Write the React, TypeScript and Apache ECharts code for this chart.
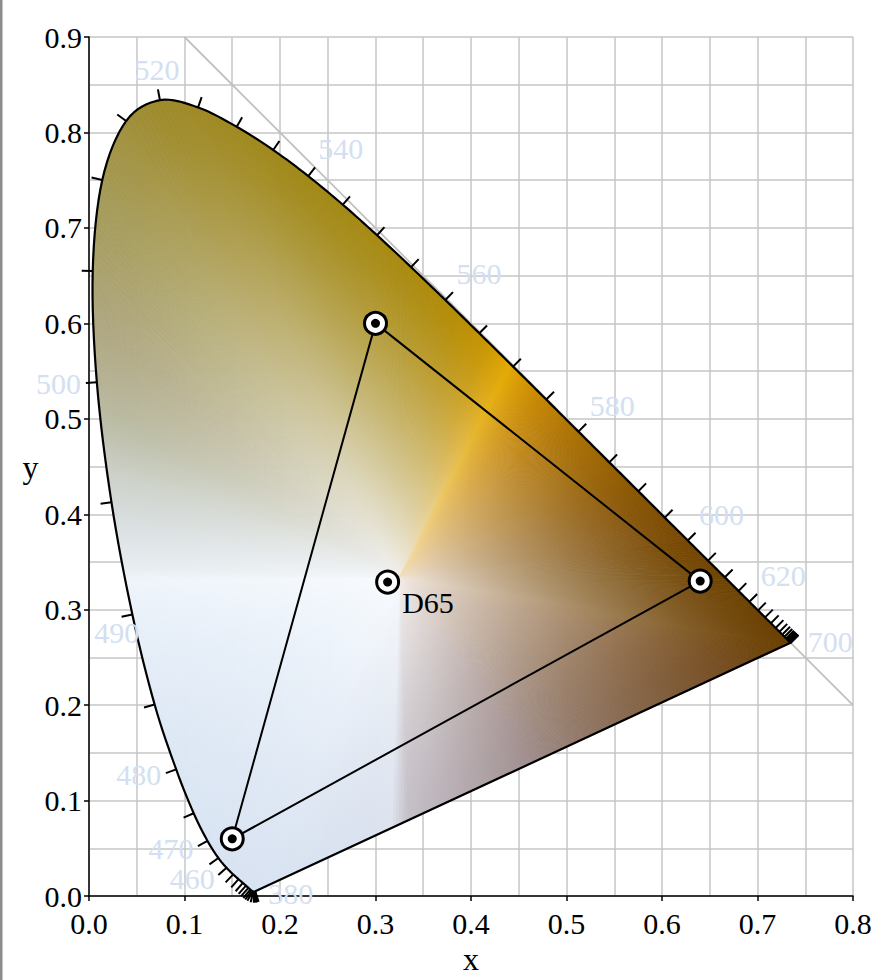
import React, { useEffect, useRef } from "react";
import * as echarts from "echarts";

// ---- data -------------------------------------------------------------
const WAVELENGTHS = [
  380, 385, 390, 395, 400, 405, 410, 415, 420, 425, 430, 435, 440, 445, 450, 455,
  460, 465, 470, 475, 480, 485, 490, 495, 500, 505, 510, 515, 520, 525, 530, 535,
  540, 545, 550, 555, 560, 565, 570, 575, 580, 585, 590, 595, 600, 605, 610, 615,
  620, 625, 630, 635, 640, 645, 650, 655, 660, 665, 670, 675, 680, 685, 690, 695, 700,
];
const LOCUS_X = [
  0.1741, 0.174, 0.1738, 0.1736, 0.1733, 0.173, 0.1726, 0.1721, 0.1714, 0.1703,
  0.1689, 0.1669, 0.1644, 0.1611, 0.1566, 0.151, 0.144, 0.1355, 0.1241, 0.1096,
  0.0913, 0.0687, 0.0454, 0.0235, 0.0082, 0.0039, 0.0139, 0.0389, 0.0743, 0.1142,
  0.1547, 0.1929, 0.2296, 0.2658, 0.3016, 0.3373, 0.3731, 0.4087, 0.4441, 0.4788,
  0.5125, 0.5448, 0.5752, 0.6029, 0.627, 0.6482, 0.6658, 0.6801, 0.6915, 0.7006,
  0.7079, 0.714, 0.719, 0.723, 0.726, 0.7283, 0.73, 0.7311, 0.732, 0.7327,
  0.7334, 0.734, 0.7344, 0.7346, 0.7347,
];
const LOCUS_Y = [
  0.005, 0.005, 0.0049, 0.0049, 0.0048, 0.0048, 0.0048, 0.0048, 0.0051, 0.0058,
  0.0069, 0.0086, 0.0109, 0.0138, 0.0177, 0.0227, 0.0297, 0.0399, 0.0578, 0.0868,
  0.1327, 0.2007, 0.295, 0.4127, 0.5384, 0.6548, 0.7502, 0.812, 0.8338, 0.8262,
  0.8059, 0.7816, 0.7543, 0.7243, 0.6923, 0.6589, 0.6245, 0.5896, 0.5547, 0.5202,
  0.4866, 0.4544, 0.4242, 0.3965, 0.3725, 0.3514, 0.334, 0.3197, 0.3083, 0.2993,
  0.292, 0.2859, 0.2809, 0.277, 0.274, 0.2717, 0.27, 0.2689, 0.268, 0.2673,
  0.2666, 0.266, 0.2656, 0.2654, 0.2653,
];
const LABELED_WAVELENGTHS = [380, 460, 470, 480, 490, 500, 520, 540, 560, 580, 600, 620, 700];

const PRIMARY_X = [0.64, 0.3, 0.15];
const PRIMARY_Y = [0.33, 0.6, 0.06];
const WHITE_X = [0.3127];
const WHITE_Y = [0.329];
const WHITE_NAME = "D65";

const X_MIN = 0, X_MAX = 0.8, Y_MIN = 0, Y_MAX = 0.9, TICK_STEP = 0.1;
const MAXWELL_LINE_X = [0.1, 0.8];
const MAXWELL_LINE_Y = [0.9, 0.2];

// ---- styles -----------------------------------------------------------
const SERIF = "'Liberation Serif', 'DejaVu Serif', serif";
const GRID_COLOR = "#c6c6c6";
const LABEL_BLUE = "#d3e0f1";
const FONT = 30;
const FILL_CENTER: [number, number] = [0.325, 0.333];
const SAT_EXP = 1.3;

// [angle from centre (deg), colour at locus, colour at centre]
const FILL_STOPS: [number, string, string][] = [
  [-180, "#eef4fa", "#f8fbfe"],
  [-160, "#e3ecf7", "#f8fbfe"],
  [-140, "#dce7f4", "#f8fbfe"],
  [-120, "#d8e3f2", "#f8fbfe"],
  [-100, "#dae2ef", "#f7f9fc"],
  [-92, "#dde3ee", "#f6f8fb"],
  [-88, "#c4bec6", "#f2eeec"],
  [-70, "#b0a5a9", "#f2ece8"],
  [-55, "#a08e8e", "#f2ebe6"],
  [-40, "#907664", "#f2eae4"],
  [-25, "#805e3e", "#f2e9e2"],
  [-15, "#744a1e", "#f2e8e0"],
  [-10, "#6a3f02", "#f2e8de"],
  [0, "#6e4200", "#f2e8dc"],
  [8, "#784700", "#f2e6d8"],
  [18, "#865200", "#f2e4d2"],
  [30, "#9a6200", "#f3e2ca"],
  [42, "#ae7200", "#f3e0c2"],
  [52, "#c48400", "#f4dfba"],
  [58, "#d49600", "#f4dfb6"],
  [62.5, "#e2a800", "#f4e0b4"],
  [64.5, "#dba200", "#efe8dc"],
  [70, "#c69400", "#f0ece4"],
  [78, "#b48c04", "#f1eeea"],
  [90, "#a8890e", "#f1efea"],
  [105, "#a08818", "#f1efec"],
  [117, "#9e8a2a", "#f1f0ee"],
  [128, "#a49a58", "#f1f1f0"],
  [140, "#aea680", "#f1f2f2"],
  [150, "#b8b89e", "#f1f3f4"],
  [160, "#cbd0c8", "#f2f5f6"],
  [170, "#dbe1e3", "#f3f6f8"],
  [178, "#e7edf1", "#f5f8fb"],
  [180, "#eef4fa", "#f8fbfe"],
];

const LABEL_OVERRIDES: Record<number, { dx?: number; dy?: number; align: string; va: string }> = {
  380: { dx: 13, dy: 2, align: "left", va: "middle" },
  700: { dx: 17, dy: -1, align: "left", va: "middle" },
  490: { align: "center", va: "top" },
};

// ---- helpers ----------------------------------------------------------
function hexRgb(h: string): number[] {
  return [parseInt(h.slice(1, 3), 16), parseInt(h.slice(3, 5), 16), parseInt(h.slice(5, 7), 16)];
}
function mix(a: number[], b: number[], t: number): number[] {
  return [a[0] + (b[0] - a[0]) * t, a[1] + (b[1] - a[1]) * t, a[2] + (b[2] - a[2]) * t];
}
function rgbStr(c: number[]): string {
  return `rgb(${Math.round(c[0])},${Math.round(c[1])},${Math.round(c[2])})`;
}
function colorsAt(theta: number): { edge: number[]; center: number[] } {
  for (let i = 0; i < FILL_STOPS.length - 1; i++) {
    const a = FILL_STOPS[i], b = FILL_STOPS[i + 1];
    if (theta >= a[0] && theta <= b[0]) {
      const t = (theta - a[0]) / (b[0] - a[0] || 1);
      return {
        edge: mix(hexRgb(a[1]), hexRgb(b[1]), t),
        center: mix(hexRgb(a[2]), hexRgb(b[2]), t),
      };
    }
  }
  const l = FILL_STOPS[FILL_STOPS.length - 1];
  return { edge: hexRgb(l[1]), center: hexRgb(l[2]) };
}
function angleOf(x: number, y: number): number {
  return (Math.atan2(y - FILL_CENTER[1], x - FILL_CENTER[0]) * 180) / Math.PI;
}

// smooth drawing path through the locus samples (Catmull-Rom), used only for rendering
function smoothLocus(): number[][] {
  const n = LOCUS_X.length;
  const P = (k: number) => {
    const c = Math.max(0, Math.min(n - 1, k));
    return [LOCUS_X[c], LOCUS_Y[c]];
  };
  const out: number[][] = [];
  const m = 8;
  for (let i = 0; i < n - 1; i++) {
    const p0 = P(i - 1), p1 = P(i), p2 = P(i + 1), p3 = P(i + 2);
    for (let s = 0; s < m; s++) {
      const t = s / m, t2 = t * t, t3 = t2 * t;
      const f = (a: number, b: number, c: number, d: number) =>
        0.5 * (2 * b + (-a + c) * t + (2 * a - 5 * b + 4 * c - d) * t2 + (-a + 3 * b - 3 * c + d) * t3);
      out.push([f(p0[0], p1[0], p2[0], p3[0]), f(p0[1], p1[1], p2[1], p3[1])]);
    }
  }
  out.push(P(n - 1));
  return out;
}

// wedges from the fill centre to each (finely split) edge of the closed ring
function buildWedges(ring: number[][]): number[][] {
  const n = ring.length;
  const out: number[][] = [];
  for (let i = 0; i < n; i++) {
    const j = (i + 1) % n;
    const ax = ring[i][0], ay = ring[i][1], bx = ring[j][0], by = ring[j][1];
    let span = Math.abs(angleOf(bx, by) - angleOf(ax, ay));
    if (span > 180) span = 360 - span;
    const k = Math.max(1, Math.ceil(span / 0.6));
    for (let s = 0; s < k; s++) {
      const t0 = s / k, t1 = (s + 1) / k;
      out.push([ax + (bx - ax) * t0, ay + (by - ay) * t0, ax + (bx - ax) * t1, ay + (by - ay) * t1]);
    }
  }
  return out;
}

const SAT_T = [0, 0.15, 0.3, 0.45, 0.6, 0.75, 0.9, 1];

function buildOption(): any {
  const ring = smoothLocus();
  const wedges = buildWedges(ring);
  const locusPts = LOCUS_X.map((x, i) => [x, LOCUS_Y[i]]);
  const outline = [...ring, ring[0]];
  const triangle = [...PRIMARY_X.map((x, i) => [x, PRIMARY_Y[i]]), [PRIMARY_X[0], PRIMARY_Y[0]]];
  const markerData: any[] = PRIMARY_X.map((x, i) => ({ value: [x, PRIMARY_Y[i]] }));
  markerData.push({
    value: [WHITE_X[0], WHITE_Y[0]],
    label: {
      show: true,
      formatter: WHITE_NAME,
      position: "right",
      distance: 2,
      offset: [0, 20],
      fontFamily: SERIF,
      fontSize: FONT,
      color: "#000",
    },
  });
  const dotData = [...PRIMARY_X.map((x, i) => [x, PRIMARY_Y[i]]), [WHITE_X[0], WHITE_Y[0]]];

  const axisCommon = {
    type: "value",
    nameLocation: "middle",
    nameTextStyle: { fontFamily: SERIF, fontSize: 32, color: "#000" },
    axisLine: { show: true, onZero: false, lineStyle: { color: "#000", width: 1.5 } },
    axisTick: { show: true, inside: false, length: 5, lineStyle: { color: "#000", width: 1.5 } },
    splitLine: { show: true, lineStyle: { color: GRID_COLOR, width: 1.5 } },
    minorTick: { show: false, splitNumber: 2 },
    minorSplitLine: { show: true, lineStyle: { color: GRID_COLOR, width: 1.5 } },
  };

  return {
    animation: false,
    backgroundColor: "#ffffff",
    grid: { left: 89, right: 35, top: 37, bottom: 83, containLabel: false },
    graphic: [
      { type: "rect", left: 0, top: 0, shape: { width: 2.5, height: 980 }, style: { fill: "#8c8c8c" }, silent: true },
    ],
    xAxis: {
      ...axisCommon,
      min: X_MIN,
      max: X_MAX,
      interval: TICK_STEP,
      name: "x",
      nameGap: 38,
      axisLabel: { margin: 12, fontFamily: SERIF, fontSize: FONT, color: "#000", formatter: (v: number) => v.toFixed(1) },
    },
    yAxis: {
      ...axisCommon,
      min: Y_MIN,
      max: Y_MAX,
      interval: TICK_STEP,
      name: "y",
      nameGap: 48,
      nameRotate: 0,
      axisLabel: { margin: 7, fontFamily: SERIF, fontSize: FONT, color: "#000", formatter: (v: number) => v.toFixed(1) },
    },
    series: [
      {
        type: "line",
        z: 1,
        silent: true,
        showSymbol: false,
        symbol: "none",
        data: MAXWELL_LINE_X.map((x, i) => [x, MAXWELL_LINE_Y[i]]),
        lineStyle: { color: "#c0c0c0", width: 1.8 },
      },
      {
        type: "custom",
        z: 2,
        silent: true,
        data: wedges,
        renderItem: (params: any, api: any) => {
          const x1 = api.value(0), y1 = api.value(1), x2 = api.value(2), y2 = api.value(3);
          const p1 = api.coord([x1, y1]);
          const p2 = api.coord([x2, y2]);
          const c = api.coord(FILL_CENTER);
          const th = angleOf((x1 + x2) / 2, (y1 + y2) / 2);
          const { edge, center } = colorsAt(th);
          const mp = [(p1[0] + p2[0]) / 2, (p1[1] + p2[1]) / 2];
          const stops = SAT_T.map((t) => ({
            offset: t,
            color: rgbStr(mix(center, edge, 1 - Math.pow(1 - t, SAT_EXP))),
          }));
          const grad = new echarts.graphic.LinearGradient(c[0], c[1], mp[0], mp[1], stops, true);
          return {
            type: "polygon",
            shape: { points: [c, p1, p2] },
            style: { fill: grad, stroke: grad, lineWidth: 0.8 },
            silent: true,
          };
        },
      },
      {
        type: "line",
        z: 3,
        silent: true,
        showSymbol: false,
        symbol: "none",
        data: outline,
        lineStyle: { color: "#000", width: 2.2, join: "round" },
      },
      {
        type: "custom",
        z: 4,
        silent: true,
        data: locusPts.map((p, i) => [p[0], p[1], WAVELENGTHS[i]]),
        renderItem: (params: any, api: any) => {
          const i = params.dataIndex;
          const n = LOCUS_X.length;
          const p = api.coord([LOCUS_X[i], LOCUS_Y[i]]);
          const a = api.coord([LOCUS_X[Math.max(0, i - 1)], LOCUS_Y[Math.max(0, i - 1)]]);
          const b = api.coord([LOCUS_X[Math.min(n - 1, i + 1)], LOCUS_Y[Math.min(n - 1, i + 1)]]);
          let tx = b[0] - a[0], ty = b[1] - a[1];
          let len = Math.hypot(tx, ty);
          if (len < 1e-9) { tx = 1; ty = 0; len = 1; }
          const nx = ty / len, ny = -tx / len;
          const children: any[] = [
            {
              type: "line",
              shape: { x1: p[0], y1: p[1], x2: p[0] + nx * 11, y2: p[1] + ny * 11 },
              style: { stroke: "#000", lineWidth: 2 },
            },
          ];
          const wl = WAVELENGTHS[i];
          if (LABELED_WAVELENGTHS.indexOf(wl) >= 0) {
            const gap = 16;
            let ax = p[0] + nx * gap, ay = p[1] + ny * gap;
            let align: string, va: string;
            if (ny < -0.5) {
              va = "bottom";
              align = Math.abs(nx) < 0.4 ? "center" : nx > 0 ? "left" : "right";
            } else {
              va = "middle";
              align = nx > 0 ? "left" : "right";
            }
            const o = LABEL_OVERRIDES[wl];
            if (o) {
              if (o.dx !== undefined) { ax = p[0] + o.dx; ay = p[1] + (o.dy || 0); }
              align = o.align; va = o.va;
            }
            children.push({
              type: "text",
              style: {
                text: String(wl),
                x: ax,
                y: ay,
                align,
                verticalAlign: va,
                fill: LABEL_BLUE,
                fontSize: FONT,
                fontFamily: SERIF,
                font: `${FONT}px ${SERIF}`,
              },
            });
          }
          return { type: "group", children };
        },
      },
      {
        type: "line",
        z: 5,
        silent: true,
        showSymbol: false,
        symbol: "none",
        data: triangle,
        lineStyle: { color: "#000", width: 2 },
      },
      {
        type: "scatter",
        z: 6,
        silent: true,
        symbol: "circle",
        symbolSize: 22,
        itemStyle: { color: "#fff", borderColor: "#000", borderWidth: 3, opacity: 1 },
        data: markerData,
      },
      {
        type: "scatter",
        z: 7,
        silent: true,
        symbol: "circle",
        symbolSize: 9,
        itemStyle: { color: "#000", opacity: 1 },
        data: dotData,
      },
    ],
  };
}

export default function App() {
  const ref = useRef<HTMLDivElement>(null);
  useEffect(() => {
    if (!ref.current) return;
    const chart = echarts.init(ref.current, undefined, { renderer: "svg" });
    chart.setOption(buildOption());
    return () => chart.dispose();
  }, []);
  return (
    <div
      ref={ref}
      style={{ position: "fixed", left: 0, top: 0, width: 888, height: 980, background: "#fff" }}
    />
  );
}
